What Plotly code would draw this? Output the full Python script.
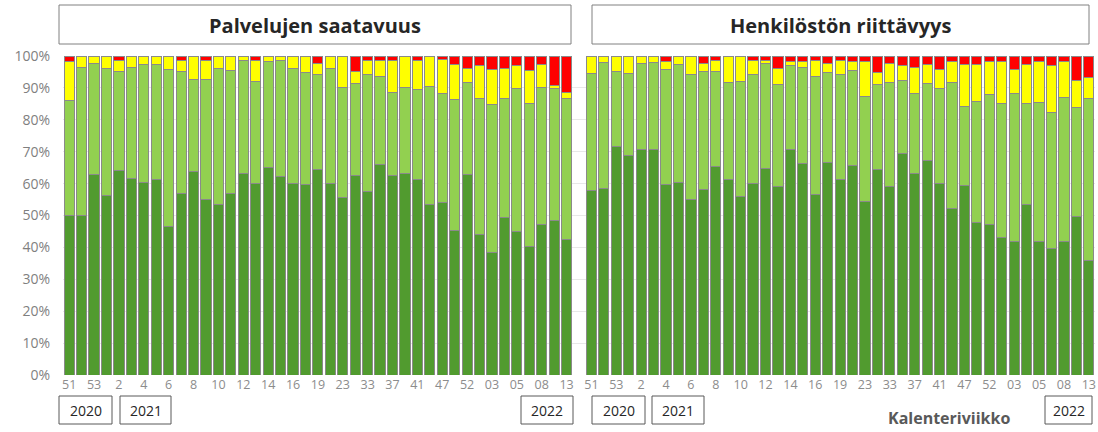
import plotly.graph_objects as go

# ---------------- data ----------------
years = ["2020"] * 3 + ["2021"] * 30 + ["2022"] * 8
weeks = ["51", "52", "53", "1", "2", "3", "4", "5", "6", "7", "8", "9", "10", "11",
         "12", "13", "14", "15", "16", "17", "19", "21", "23", "31", "33", "35",
         "37", "39", "41", "43", "47", "49", "52", "01", "03", "04", "05", "07",
         "08", "10", "13"]

# Palvelujen saatavuus (shares, %)
p_dark = [50.0, 50.0, 63.0, 56.3, 64.2, 61.7, 60.5, 61.2, 46.5, 57.0, 63.9, 54.9, 53.4, 56.9,
          63.3, 60.1, 65.0, 62.2, 60.1, 59.6, 64.5, 60.1, 55.5, 62.4, 57.6, 66.0, 62.4, 63.3,
          61.2, 53.5, 54.0, 45.3, 63.0, 44.1, 38.3, 49.3, 45.1, 40.4, 47.2, 48.5, 42.5]
p_light = [36.0, 46.5, 34.6, 39.7, 30.8, 34.8, 36.8, 36.1, 49.2, 38.0, 28.6, 37.6, 42.6, 38.6,
           35.4, 32.0, 33.4, 36.4, 35.9, 35.2, 29.6, 35.9, 34.5, 28.9, 36.5, 27.7, 26.3, 26.7,
           28.3, 37.0, 34.1, 41.1, 28.8, 42.7, 46.4, 37.5, 44.8, 44.8, 42.8, 41.2, 44.3]
p_yellow = [12.3, 3.5, 2.4, 4.0, 3.6, 3.5, 2.7, 2.7, 4.3, 3.6, 7.5, 6.1, 4.0, 4.5,
            1.3, 6.5, 1.6, 1.4, 4.0, 5.2, 3.5, 4.0, 10.0, 3.7, 4.5, 4.9, 9.8, 10.0,
            9.0, 9.5, 10.7, 11.0, 4.4, 10.1, 11.1, 9.2, 7.0, 10.3, 7.3, 1.1, 1.7]
p_red = [1.7, 0.0, 0.0, 0.0, 1.4, 0.0, 0.0, 0.0, 0.0, 1.4, 0.0, 1.4, 0.0, 0.0,
         0.0, 1.4, 0.0, 0.0, 0.0, 0.0, 2.4, 0.0, 0.0, 5.0, 1.4, 1.4, 1.5, 0.0,
         1.5, 0.0, 1.2, 2.6, 3.8, 3.1, 4.2, 4.0, 3.1, 4.5, 2.7, 9.2, 11.5]

# Henkilöstön riittävyys (shares, %)
h_dark = [57.7, 58.4, 71.6, 68.9, 70.8, 70.8, 59.8, 60.5, 55.1, 58.2, 65.4, 61.4, 56.1, 60.1,
          64.8, 59.0, 70.8, 66.3, 56.6, 66.6, 61.2, 65.6, 54.4, 64.5, 59.0, 69.3, 63.3, 67.2,
          60.1, 52.2, 59.3, 47.7, 47.2, 43.1, 42.0, 53.3, 42.0, 39.7, 42.0, 49.8, 36.0]
h_light = [36.7, 39.7, 23.6, 25.5, 26.8, 27.1, 35.9, 36.8, 39.0, 36.8, 29.6, 30.2, 35.9, 34.0,
           32.8, 32.0, 26.1, 30.2, 37.0, 28.2, 32.9, 29.9, 33.0, 26.6, 32.8, 23.0, 24.8, 24.3,
           29.6, 39.6, 25.0, 38.1, 40.6, 42.1, 46.1, 31.9, 43.5, 42.7, 45.1, 34.1, 50.8]
h_yellow = [5.6, 1.9, 4.8, 5.6, 2.4, 2.1, 2.7, 2.7, 5.9, 2.6, 3.6, 8.4, 8.0, 4.5,
            1.0, 5.0, 1.5, 1.9, 5.0, 2.8, 4.5, 2.8, 10.9, 3.7, 5.8, 4.6, 8.4, 5.8,
            6.1, 6.5, 13.0, 11.5, 10.6, 13.2, 7.6, 12.1, 12.9, 14.5, 11.3, 8.4, 6.6]
h_red = [0.0, 0.0, 0.0, 0.0, 0.0, 0.0, 1.6, 0.0, 0.0, 2.4, 1.4, 0.0, 0.0, 1.4,
         1.4, 4.0, 1.6, 1.6, 1.4, 2.4, 1.4, 1.7, 1.7, 5.2, 2.4, 3.1, 3.5, 2.7,
         4.2, 1.7, 2.7, 2.7, 1.6, 1.6, 4.3, 2.7, 1.6, 3.1, 1.6, 7.7, 6.6]

panel_titles = ["Palvelujen saatavuus", "Henkilöstön riittävyys"]
year_labels = ["2020", "2021", "2022"]
axis_title = "Kalenteriviikko"

# ---------------- styling ----------------
C_DARK = "#519B2F"
C_LIGHT = "#92D050"
C_YEL = "#FFFF00"
C_RED = "#FF0000"
OUTLINE = "#8a8a8a"

W, H = 1098, 432
ML, MR, MT, MB = 63, 3, 56, 57
PW = W - ML - MR
PH = H - MT - MB


def px(x):
    return (x - ML) / PW


def py(y):
    return (H - MB - y) / PH


keys = [f"{y}-{w}" for y, w in zip(years, weeks)]
tick_keys = keys[::2]
tick_text = weeks[::2]

fig = go.Figure()
panels = [(p_dark, p_light, p_yellow, p_red), (h_dark, h_light, h_yellow, h_red)]
for i, series in enumerate(panels):
    xa = "x" if i == 0 else "x2"
    ya = "y" if i == 0 else "y2"
    for vals, col in zip(series, [C_DARK, C_LIGHT, C_YEL, C_RED]):
        fig.add_trace(go.Bar(
            x=keys, y=[v / 100 for v in vals], xaxis=xa, yaxis=ya,
            marker=dict(color=col, line=dict(color=OUTLINE, width=1)),
            showlegend=False, hoverinfo="skip"))

n = len(keys)
split = (n + 0.5) / (2 * n + 1)
tickfont = dict(family="Open Sans", size=12.5, color="#8c8c8c")
fig.update_layout(
    width=W, height=H, barmode="stack", bargap=0.18,
    margin=dict(l=ML, r=MR, t=MT, b=MB),
    plot_bgcolor="white", paper_bgcolor="white",
    xaxis=dict(domain=[0, split], type="category", categoryorder="array",
               categoryarray=keys, range=[-0.5, n], tickmode="array",
               tickvals=tick_keys, ticktext=tick_text, tickfont=tickfont,
               tickangle=0, showgrid=False, showline=False, ticks=""),
    xaxis2=dict(domain=[split, 1], type="category", categoryorder="array",
                categoryarray=keys, range=[-1, n - 0.5], tickmode="array",
                tickvals=tick_keys, ticktext=tick_text, tickfont=tickfont,
                tickangle=0, showgrid=False, showline=False, ticks=""),
    yaxis=dict(range=[0, 1], dtick=0.1, tickformat=".0%", showgrid=True,
               gridcolor="#e8e8e8", gridwidth=1, zeroline=False,
               tickfont=dict(family="Open Sans", size=14, color="#7f7f7f"),
               ticks="outside", ticklen=9, tickcolor="rgba(0,0,0,0)"),
    yaxis2=dict(range=[0, 1], dtick=0.1, anchor="x2", matches="y",
                showticklabels=False, showgrid=True, gridcolor="#e8e8e8",
                zeroline=False),
)

shapes = []
annots = []
# panel title boxes
for (x0, x1), t in zip([(59, 571), (592, 1089)], panel_titles):
    shapes.append(dict(type="rect", xref="paper", yref="paper",
                       x0=px(x0), x1=px(x1), y0=py(44), y1=py(5),
                       line=dict(color="#808080", width=1), fillcolor="white"))
    annots.append(dict(text=f"<b>{t}</b>", xref="paper", yref="paper",
                       x=px((x0 + x1) / 2), y=py(25), showarrow=False,
                       font=dict(family="Open Sans", size=20, color="#262626"),
                       xanchor="center", yanchor="middle"))
# year boxes
year_boxes = [(59, 112), (120, 171), (521, 573), (592, 645), (652, 704), (1045, 1092)]
for j, (x0, x1) in enumerate(year_boxes):
    shapes.append(dict(type="rect", xref="paper", yref="paper",
                       x0=px(x0), x1=px(x1), y0=py(424), y1=py(396),
                       line=dict(color="#595959", width=1), fillcolor="white"))
    annots.append(dict(text=year_labels[j % 3], xref="paper", yref="paper",
                       x=px((x0 + x1) / 2), y=py(410), showarrow=False,
                       font=dict(family="Open Sans", size=14, color="#262626"),
                       xanchor="center", yanchor="middle"))
annots.append(dict(text=f"<b>{axis_title}</b>", xref="paper", yref="paper",
                   x=px(949), y=py(418), showarrow=False,
                   font=dict(family="Open Sans", size=16, color="#595959"),
                   xanchor="center", yanchor="middle"))
fig.update_layout(shapes=shapes, annotations=annots)

fig.write_html("out.html", config={"displayModeBar": False},
               post_script="document.body.style.margin='0';document.body.style.overflow='hidden';")
